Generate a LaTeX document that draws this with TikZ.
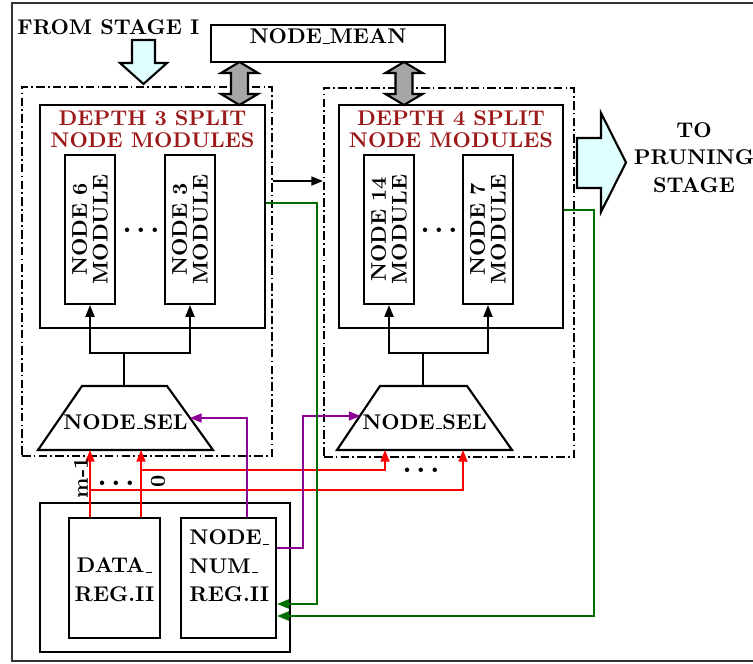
\documentclass[tikz,border=0pt]{standalone}
\usepackage{xcolor}
\definecolor{titlered}{RGB}{155,25,25}
\definecolor{wiregreen}{RGB}{0,110,0}
\definecolor{wirepurple}{RGB}{140,0,150}
\definecolor{flowcyan}{RGB}{224,255,255}
\usetikzlibrary{arrows.meta, positioning, fit, calc}
\newcommand{\usc}{\leavevmode\kern.06em\vbox{\hrule width.3em}}
\newcommand{\bigdots}{{\Large.\kern2pt.\kern2pt.}}

\begin{document}
\begin{tikzpicture}[
  x=0.47pt, y=-0.47pt,
  every node/.style={font=\bfseries},
  box/.style={rectangle, draw, line width=1pt, inner sep=0pt},
  stagebox/.style={rectangle, draw, line width=0.9pt, inner sep=0pt,
                   dash pattern=on 4pt off 1.5pt on 0.8pt off 1.5pt},
  title/.style={text=titlered, align=center, inner sep=0pt},
  modtext/.style={rotate=90, align=center, inner sep=0pt},
  blockarrow/.style={draw, line width=1pt, fill=flowcyan},
  busarrow/.style={draw, line width=1pt, fill=gray!70},
  line/.style={draw, line width=0.9pt},
  arrowed/.style={-{Triangle[length=5.5pt,width=4.2pt]}},
  redline/.style={line, arrowed, red},
  grnline/.style={line, arrowed, wiregreen},
  prpline/.style={line, arrowed, wirepurple}
]
\useasboundingbox (0,0) rectangle (753,664);

% Frame
\draw[line width=1pt, black!80] (753,3) -- (12,3) -- (12,661) -- (753,661);

% Inputs and outputs
\node[anchor=west, inner sep=0pt] (from) at (17,27.5) {FROM STAGE I};
\draw[blockarrow] (132,40) -- (155,40) -- (155,63) -- (167,63) -- (143.5,84)
  -- (120,63) -- (132,63) -- cycle;
\node[box, fit={(211,25) (445,62)}] (mean) {NODE\usc MEAN};
\draw[blockarrow] (577,138) -- (601,138) -- (601,113) -- (626,162.5)
  -- (601,212) -- (601,188) -- (577,188) -- cycle;
\node[align=center] (prune) at (694,157.5) {TO\\[1pt]PRUNING\\[1pt]STAGE};

% Stages
\node[stagebox, fit={(22,87) (272,456)}] (d3) {};
\node[stagebox, fit={(324,88) (574,457)}] (d4) {};
\node[box, fit={(40,105) (265,328)}] (s3) {};
\node[box, fit={(339,105) (563,328)}] (s4) {};
\node[title, anchor=north] (t3) at (152.5,110) {DEPTH 3 SPLIT\\[-1.7pt]NODE MODULES};
\node[title, anchor=north] (t4) at (451,110) {DEPTH 4 SPLIT\\[-1.7pt]NODE MODULES};

% NODE_MEAN buses
\draw[busarrow] (239.5,62) -- (258,73) -- (248,73) -- (248,94) -- (258,94)
  -- (239.5,105) -- (221,94) -- (231,94) -- (231,73) -- (221,73) -- cycle;
\draw[busarrow] (404,62) -- (422.5,73) -- (412.5,73) -- (412.5,94) -- (422.5,94)
  -- (404,105) -- (385.5,94) -- (395.5,94) -- (395.5,73) -- (385.5,73) -- cycle;

% Modules
\node[box, fit={(65,155) (115,304)}] (n6) {};
\node[box, fit={(165,155) (215,304)}] (n3) {};
\node[box, fit={(364,155) (414,304)}] (n14) {};
\node[box, fit={(463,155) (513,304)}] (n7) {};
\node[modtext] (m6) at (n6) {NODE 6\\[-2.3pt]MODULE};
\node[modtext] (m3) at (n3) {NODE 3\\[-2.3pt]MODULE};
\node[modtext] (m14) at (n14) {NODE 14\\[-2.3pt]MODULE};
\node[modtext] (m7) at (n7) {NODE 7\\[-2.3pt]MODULE};
\node (dots3) at (141,230) {\bigdots};
\node (dots4) at (439,230) {\bigdots};

% Selectors
\node (sel3) at (125.5,422) {NODE\usc SEL};
\node (sel4) at (424.5,422) {NODE\usc SEL};
\draw[line, line width=1pt, shift={(sel3)}] (-87.5,28) -- (87.5,28) -- (41.5,-36) -- (-43.5,-36) -- cycle;
\draw[line, line width=1pt, shift={(sel4)}] (-87.5,28) -- (87.5,28) -- (42.5,-36) -- (-44.5,-36) -- cycle;
\draw[line, arrowed] ($(sel3)+(-1.5,-36)$) -- ++(0,-33) -| (n6.south);
\draw[line, arrowed] ($(sel3)+(-1.5,-36)$) -- ++(0,-33) -| (n3.south);
\draw[line, arrowed] ($(sel4)+(-1.5,-36)$) -- ++(0,-33) -| (n14.south);
\draw[line, arrowed] ($(sel4)+(-1.5,-36)$) -- ++(0,-33) -| (n7.south);

% Stage link
\draw[line, arrowed] ($(d3.north east)+(0,95)$) -- ($(d4.north west)+(0,94)$);

% Registers
\node[box, fit={(40,503) (290,652)}] (reg) {};
\node[box, fit={(69,518) (160,638)}] (dr) {};
\node[box, fit={(181,518) (276,638)}] (nr) {};
\node[align=center] (drtext) at (114.5,580) {DATA\usc\\[1.6pt]REG.II};
\node[align=left, anchor=west, inner sep=0pt] (nrtext) at (189,566)
  {NODE\usc\\[1.4pt]NUM\usc\\[1.4pt]REG.II};

% Data inputs
\coordinate (m1) at ($(dr.north)+(-24.5,0)$);
\coordinate (z0) at ($(dr.north)+(26.5,0)$);
\draw[redline] (m1) -- ($(sel3)+(-35.5,28)$);
\draw[redline] (z0) -- ($(sel3)+(15.5,28)$);
\draw[redline] ($(m1)+(0,-27)$) -| ($(sel4)+(38.5,28)$);
\draw[redline] ($(z0)+(0,-47)$) -| ($(sel4)+(-39.5,28)$);
\node[rotate=90] (lm1) at (81,478) {m-1};
\node[rotate=90] (lz0) at (158,481) {0};
\node (dotsin) at (116,483) {\bigdots};
\node (dotssel) at (421,470) {\bigdots};

% Node number paths
\draw[prpline] ($(nr.north)+(18.5,0)$) |- ($(sel3)+(64.5,-4)$);
\draw[prpline] ($(nr.east)+(0,-30)$) -- ++(26,0) |- ($(sel4)+(-64,-6)$);
\draw[grnline] ($(s3.north east)+(0,99)$) -| ($(nr.east)+(40,26)$) -- ($(nr.east)+(0,26)$);
\draw[grnline] ($(s4.north east)+(0,106)$) -| ($(nr.east)+(317,38)$) -- ($(nr.east)+(0,38)$);

\end{tikzpicture}
\end{document}
